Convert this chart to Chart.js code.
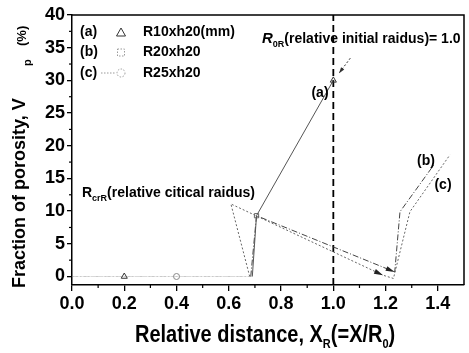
<!DOCTYPE html>
<html>
<head>
<meta charset="utf-8">
<script src="https://cdn.jsdelivr.net/npm/chart.js@4.4.0/dist/chart.umd.min.js"></script>
<style>
  body { margin: 0; background: #fff; }
  #wrap { width: 469px; height: 353px; }
</style>
</head>
<body>
<div id="wrap"><canvas id="chart" width="469" height="353"></canvas></div>
<script>
// tick labels
const xTicks = [0, 0.2, 0.4, 0.6, 0.8, 1.0, 1.2, 1.4];
const yTicks = [0, 5, 10, 15, 20, 25, 30, 35, 40];
const xMinor = [0.1, 0.3, 0.5, 0.7, 0.9, 1.1, 1.3];
const yMinor = [2.5, 7.5, 12.5, 17.5, 22.5, 27.5, 32.5, 37.5];

// legend
const seriesTags = ["(a)", "(b)", "(c)"];
const seriesLabels = ["R10xh20(mm)", "R20xh20", "R25xh20"];

// (a) R10xh20
const xA = [0, 0.1, 0.2, 0.25, 0.69, 0.706, 1.0];
const yA = [0, 0, 0, 0, 0, 9.3, 30];
// (b) R20xh20
const xB = [0, 0.08, 0.14, 0.66, 0.684, 0.706, 1.235, 1.255, 1.385];
const yB = [0, 0, 0, 0, 0, 9.3, 0.7, 9.9, 17.1];
// (c) R25xh20
const xC = [0, 0.4, 0.64, 0.68, 0.608, 1.19, 1.23, 1.293, 1.446];
const yC = [0, 0, 0, 0, 11.1, 0.2, -0.3, 9.9, 18.6];

// R0R reference line
const xRef = [1.0, 1.0];
const yRef = [-1.3, 40];

const toPts = (xs, ys) => xs.map((x, i) => ({ x, y: ys[i] }));
// runs along zero are barely visible in the scan
const faintFlat = ctx => (ctx.p0.parsed.y === 0 && ctx.p1.parsed.y === 0) ? "rgba(140,140,140,0.18)" : undefined;

// arrows at the end of the long lines: [dataset, point index]
const arrowEnds = [[1, 6], [2, 5]];

function arrowHead(ctx, x1, y1, x2, y2, len, half) {
  const a = Math.atan2(y2 - y1, x2 - x1);
  ctx.beginPath();
  ctx.moveTo(x2, y2);
  ctx.lineTo(x2 - len * Math.cos(a) + half * Math.sin(a), y2 - len * Math.sin(a) - half * Math.cos(a));
  ctx.lineTo(x2 - len * Math.cos(a) - half * Math.sin(a), y2 - len * Math.sin(a) + half * Math.cos(a));
  ctx.closePath();
  ctx.fill();
}

// text with subscript, returns x after drawing
function subText(ctx, parts, x, y) {
  parts.forEach(([txt, size, dy, italic]) => {
    ctx.font = (italic ? "italic " : "") + "bold " + size + "px Arial";
    ctx.fillText(txt, x, y + dy);
    x += ctx.measureText(txt).width;
  });
  return x;
}

const extras = {
  id: "extras",
  afterDatasetsDraw(chart) {
    const { ctx, chartArea: ca, scales: { x, y } } = chart;
    ctx.save();
    ctx.strokeStyle = "#000";
    ctx.fillStyle = "#000";

    // frame top/right
    ctx.lineWidth = 1.5;
    ctx.beginPath();
    ctx.moveTo(ca.left, ca.top);
    ctx.lineTo(ca.right, ca.top);
    ctx.lineTo(ca.right, ca.bottom);
    ctx.stroke();

    // minor ticks
    ctx.lineWidth = 1.2;
    xMinor.forEach(v => {
      const px = x.getPixelForValue(v);
      ctx.beginPath(); ctx.moveTo(px, ca.bottom); ctx.lineTo(px, ca.bottom + 3); ctx.stroke();
    });
    yMinor.forEach(v => {
      const py = y.getPixelForValue(v);
      ctx.beginPath(); ctx.moveTo(ca.left, py); ctx.lineTo(ca.left - 3, py); ctx.stroke();
    });

    // arrowheads
    arrowEnds.forEach(([d, i]) => {
      const pts = chart.getDatasetMeta(d).data;
      ctx.fillStyle = "#222";
      arrowHead(ctx, pts[i - 1].x, pts[i - 1].y, pts[i].x, pts[i].y, 9, 2.5);
    });

    // pointer from R0R label to the (a) peak
    const sx = x.getPixelForValue(1.065), sy = y.getPixelForValue(33.4);
    const ex = x.getPixelForValue(1.022), ey = y.getPixelForValue(31.1);
    ctx.strokeStyle = "#333";
    ctx.lineWidth = 1;
    ctx.setLineDash([2, 2]);
    ctx.beginPath(); ctx.moveTo(sx, sy); ctx.lineTo(ex, ey); ctx.stroke();
    ctx.setLineDash([]);
    ctx.fillStyle = "#333";
    arrowHead(ctx, sx, sy, ex, ey, 6, 2);

    // legend
    ctx.fillStyle = "#000";
    ctx.textBaseline = "middle";
    const rows = [32, 52.5, 73];
    seriesTags.forEach((t, i) => {
      ctx.font = "bold 14px Arial";
      ctx.fillText(t, 80, rows[i]);
      ctx.fillText(seriesLabels[i], 143, rows[i]);
    });
    ctx.lineWidth = 1;
    ctx.strokeStyle = "#333";
    ctx.beginPath();
    ctx.moveTo(121, 28); ctx.lineTo(125.5, 36); ctx.lineTo(116.5, 36); ctx.closePath();
    ctx.stroke();
    ctx.strokeStyle = "#999";
    ctx.setLineDash([1.5, 1.5]);
    ctx.strokeRect(117.5, 49, 7, 7);
    ctx.beginPath(); ctx.moveTo(101, 73); ctx.lineTo(116, 73); ctx.stroke();
    ctx.beginPath(); ctx.arc(121, 73, 4, 0, Math.PI * 2); ctx.stroke();
    ctx.setLineDash([]);

    // annotations
    ctx.textBaseline = "alphabetic";
    ctx.fillStyle = "#000";
    subText(ctx, [["R", 15, 0, true], ["0R", 9, 4, false], ["(relative initial raidus)= 1.0", 14, 0, false]], 262, 43);
    subText(ctx, [["R", 14, 0, false], ["crR", 9, 4, false], ["(relative citical raidus)", 14, 0, false]], 82, 197);
    ctx.font = "bold 14px Arial";
    ctx.textAlign = "center";
    ctx.textBaseline = "middle";
    ctx.fillText("(a)", 320, 93);
    ctx.fillText("(b)", 426, 161);
    ctx.fillText("(c)", 443, 185);
    ctx.textAlign = "left";
    ctx.textBaseline = "alphabetic";

    // x title
    ctx.save();
    ctx.translate(135, 342);
    ctx.scale(1, 1.15);
    let cx = subText(ctx, [["Relative distance, X", 20, 0, false], ["R", 11, 5, false], ["(=X/R", 20, 0, false], ["0", 11, 5, false]], 0, 0);
    subText(ctx, [[")", 20, 0, false]], cx, 0);
    ctx.restore();

    // y title
    ctx.save();
    ctx.translate(25, 288);
    ctx.rotate(-Math.PI / 2);
    ctx.font = "bold 18px Arial";
    ctx.fillText("Fraction of porosity, V", 0, 0);
    ctx.restore();
    ctx.save();
    ctx.translate(31, 66);
    ctx.rotate(-Math.PI / 2);
    ctx.font = "bold 11px Arial";
    ctx.fillText("p", 0, 0);
    ctx.restore();
    ctx.save();
    ctx.translate(26, 46);
    ctx.rotate(-Math.PI / 2);
    ctx.font = "bold 13px Arial";
    ctx.fillText("(%)", 0, 0);
    ctx.restore();

    ctx.restore();
  }
};

const tickFont = { family: "Arial", size: 18, weight: "bold" };

new Chart(document.getElementById("chart"), {
  type: "scatter",
  data: {
    datasets: [
      {
        label: seriesLabels[0], data: toPts(xA, yA), showLine: true,
        borderColor: "#555", borderWidth: 1, backgroundColor: "transparent",
        pointStyle: "triangle", pointRadius: [0, 0, 3.5, 0, 0, 0, 3.5], pointBorderColor: "#333",
        segment: { borderColor: faintFlat }
      },
      {
        label: seriesLabels[1], data: toPts(xB, yB), showLine: true,
        borderColor: "#444", borderWidth: 1, borderDash: [6, 2, 1, 2], backgroundColor: "transparent",
        pointStyle: "rect", pointRadius: [0, 0, 0, 0, 0, 3, 0, 0, 0], pointBorderColor: "#666",
        segment: { borderColor: faintFlat }
      },
      {
        label: seriesLabels[2], data: toPts(xC, yC), showLine: true,
        borderColor: "#666", borderWidth: 1, borderDash: [2, 2], backgroundColor: "transparent",
        pointStyle: "circle", pointRadius: [0, 3, 0, 0, 0, 0, 0, 0, 0], pointBorderColor: "#888",
        segment: { borderColor: faintFlat }
      },
      {
        label: "R0R", data: toPts(xRef, yRef), showLine: true,
        borderColor: "#000", borderWidth: 1.8, borderDash: [7, 4], pointRadius: 0
      }
    ]
  },
  options: {
    responsive: false,
    animation: false,
    layout: { padding: { top: 15, right: 3, left: 0, bottom: 0 } },
    plugins: { legend: { display: false }, tooltip: { enabled: false } },
    scales: {
      x: {
        type: "linear", min: 0, max: 1.5,
        afterBuildTicks: s => { s.ticks = xTicks.map(v => ({ value: v })); },
        afterFit: s => { s.height = 68; },
        ticks: { font: tickFont, color: "#000", padding: 2, maxRotation: 0, autoSkip: false, callback: v => v.toFixed(1) },
        grid: { drawOnChartArea: false, tickLength: 6, color: "#000", lineWidth: 1.3 },
        border: { color: "#000", width: 1.5 }
      },
      y: {
        min: -1.3, max: 40,
        afterBuildTicks: s => { s.ticks = yTicks.map(v => ({ value: v })); },
        afterFit: s => { s.width = 72; },
        ticks: { font: tickFont, color: "#000", padding: 2, autoSkip: false },
        grid: { drawOnChartArea: false, tickLength: 5, color: "#000", lineWidth: 1.3 },
        border: { color: "#000", width: 1.5 }
      }
    }
  },
  plugins: [extras]
});
</script>
</body>
</html>
